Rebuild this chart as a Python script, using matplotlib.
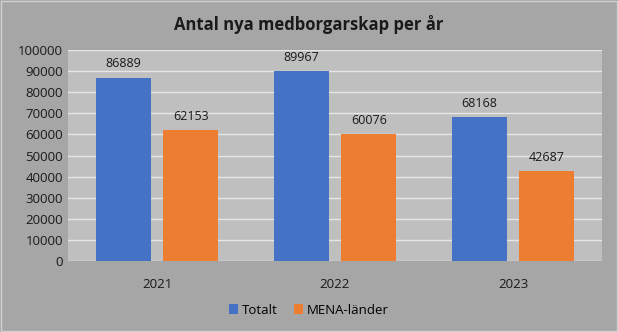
import numpy as np
import matplotlib.pyplot as plt

years = ['2021', '2022', '2023']
totalt = [86889, 89967, 68168]
mena = [62153, 60076, 42687]

plt.rcParams['font.family'] = ['Open Sans', 'DejaVu Sans']

fig = plt.figure(figsize=(6.18, 3.32), dpi=100, facecolor='#a6a6a6')
ax = fig.add_axes([0.110, 0.214, 0.864, 0.635])
ax.set_facecolor('#bfbfbf')

x = np.arange(len(years))
w = 0.31
b1 = ax.bar(x - 0.19, totalt, w, color='#4472c4', label='Totalt', zorder=3)
b2 = ax.bar(x + 0.19, mena, w, color='#ed7d31', label='MENA-länder', zorder=3)

for bars, vals in ((b1, totalt), (b2, mena)):
    for r, v in zip(bars, vals):
        ax.text(r.get_x() + r.get_width() / 2, v + 3500, str(v),
                ha='center', va='bottom', fontsize=9, color='#1a1a1a')

ax.set_xlim(-0.5, 2.5)
ax.set_ylim(0, 100000)
ax.set_yticks(np.arange(0, 100001, 10000))
ax.set_xticks(x)
ax.set_xticklabels(years)
ax.yaxis.grid(True, color='#e6e6e6', linewidth=1, zorder=0)
ax.tick_params(length=0, labelsize=9.5, colors='#1a1a1a')
ax.tick_params(axis='x', pad=12)
for s in ax.spines.values():
    s.set_visible(False)

fig.text(0.5, 0.925, 'Antal nya medborgarskap per år', ha='center', va='center',
         fontsize=12, fontweight='bold', color='#1a1a1a')

fig.legend(loc='center', bbox_to_anchor=(0.5, 0.066), ncol=2, frameon=False,
           fontsize=9.5, handlelength=0.7, handleheight=0.7, handletextpad=0.3,
           columnspacing=1.2)

fig.patches.append(plt.Rectangle((0.001, 0.002), 0.997, 0.995, transform=fig.transFigure,
                                 fill=False, edgecolor='#d0d0d0', linewidth=1))

fig.savefig('out.png', dpi=100, facecolor=fig.get_facecolor())
